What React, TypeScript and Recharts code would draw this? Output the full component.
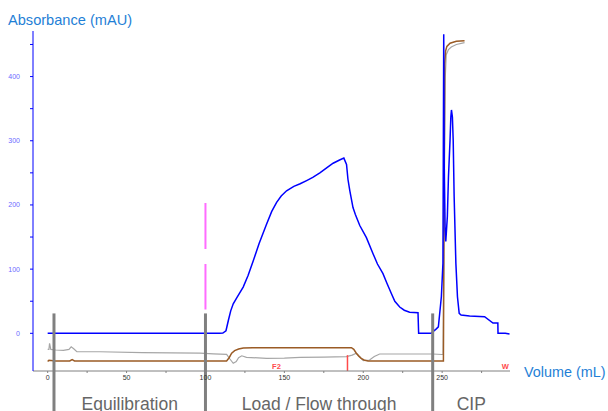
import React from 'react';
import {
  LineChart,
  Line,
  XAxis,
  YAxis,
  ReferenceLine,
  ReferenceArea,
  ReferenceDot,
} from 'recharts';

// UV 280 nm trace (mAU) vs volume (mL)
const uvTrace = [
  [0, 0], [10, 0], [30, 0], [60, 0], [90, 0], [109, 0], [111, 0.5], [113, 4], [114.5, 20],
  [116, 35], [117.6, 46], [120, 56], [123.9, 72], [127, 90], [130.3, 113], [134, 140],
  [138.7, 170], [142, 190], [145.1, 204], [148, 214], [151.4, 222], [156, 229], [160, 233],
  [164.1, 238], [168, 243], [172.5, 250], [177, 258], [180.9, 265], [185, 270], [187.7, 273],
  [189.4, 263], [190.3, 240], [191.5, 222], [193.5, 196], [195, 185], [197.8, 168],
  [202, 149], [206.2, 124], [209, 108], [212.5, 93], [215, 78], [217.8, 62], [220, 50],
  [223.1, 41], [226, 36], [229.4, 33], [234.7, 32], [235.1, 0], [243, 0], [246.3, 7],
  [247.6, 10], [249.5, 57], [250.5, 109], [251, 466], [251.3, 265], [251.9, 161],
  [252.3, 143], [253.3, 182], [254, 244], [255, 301], [255.5, 337], [255.9, 348],
  [256.5, 337], [257, 301], [257.6, 213], [258.7, 109], [259.7, 57], [260.8, 31],
  [262, 28.5], [267.4, 27], [276.9, 26], [282.2, 16], [285.3, 16], [285.4, 0], [290, 0],
  [292.7, -1],
];

// conductivity trace, drawn on the mAU scale
const condTrace = [
  [0, -44], [0.8, -42], [5, -43], [14, -43], [15.5, -41], [17, -43], [30, -43], [60, -43],
  [90, -43], [113.4, -43], [115, -38], [116.6, -31], [118.5, -27], [121, -24.5], [124, -22.8],
  [130, -22.4], [160, -22.4], [192.5, -22.4], [194, -25], [195.6, -31], [197.2, -35.5],
  [198.7, -39], [200.5, -41.5], [203, -43], [230, -43], [250, -43], [250.8, -43],
  [251.2, 200], [251.6, 420], [252.2, 440], [253, 447], [255, 452], [259, 455], [264.2, 456],
];

// pressure / second signal trace, also on the mAU scale
const pressTrace = [
  [0, -25], [0.8, -25], [1.2, -15.6], [2, -25], [5, -26], [10, -26.5], [13.5, -25],
  [14.9, -21], [16.5, -24], [18.5, -28.7], [33, -28.7], [60, -30], [96.5, -31],
  [105, -32], [113.4, -32.7], [115.5, -40], [117.6, -46.7], [119.5, -44], [121, -38],
  [123, -35], [126, -37.4], [138.7, -39], [150, -38.5], [160, -37.4], [175, -37],
  [189.4, -36.4], [193, -34], [195.6, -31], [197.5, -36], [200, -42.7], [204, -41.6],
  [207, -36], [210.4, -32.2], [223, -32.2], [244, -32.2], [250, -33], [250.6, -33],
  [251.3, 200], [252, 400], [252.6, 434], [254, 442], [255.8, 446], [259, 450], [264.2, 453],
];

const phaseStarts = [4, 100, 244];
const phases = [
  { name: 'Equilibration', start: 4, end: 100 },
  { name: 'Load / Flow through', start: 100, end: 244 },
  { name: 'CIP', start: 244, end: 293 },
];
const injectionAt = 100;
const fractionMarks = [190];
const fractionLabels = [
  { name: 'F2', at: 145 },
  { name: 'W', at: 290 },
];

const xTicks = [0, 25, 50, 75, 100, 125, 150, 175, 200, 225, 250, 275];
const yTicks = [0, 50, 100, 150, 200, 250, 300, 350, 400, 450];

const toPoints = (arr: number[][]) => arr.map(([v, y]) => ({ v, y }));

const FONT = '"Liberation Sans", Arial, sans-serif';

function PhaseLabel(props: any) {
  const { viewBox, value } = props;
  if (!viewBox) return null;
  return (
    <text
      x={viewBox.x + viewBox.width / 2}
      y={409.5}
      textAnchor="middle"
      fontSize={17.5}
      fill="#666666"
      fontFamily={FONT}
    >
      {value}
    </text>
  );
}

export default function App() {
  return (
    <div style={{ position: 'absolute', left: 0, top: 0, width: 608, height: 411, background: '#fff' }}>
      <LineChart
        width={608}
        height={411}
        margin={{ top: 31, right: 98, bottom: 20, left: 0 }}
        style={{ fontFamily: FONT }}
      >
        <XAxis
          type="number"
          dataKey="v"
          domain={[-9.3, 293]}
          allowDataOverflow
          ticks={xTicks}
          tickFormatter={(t: number) => (t % 50 === 0 ? String(t) : '')}
          height={20}
          stroke="#808080"
          tickSize={2}
          tickMargin={2.5}
          tick={{ fontSize: 7, fill: '#333333' }}
        />
        <YAxis
          type="number"
          domain={[-58.7, 471]}
          allowDataOverflow
          ticks={yTicks}
          tickFormatter={(t: number) => (t % 100 === 0 ? String(t) : '')}
          width={33}
          stroke="#0000ff"
          tickSize={3}
          tickMargin={10}
          tick={{ fontSize: 7, fill: '#6a6aff' }}
        />
        {phases.map((p) => (
          <ReferenceArea
            key={p.name}
            x1={p.start}
            x2={p.end}
            fill="none"
            fillOpacity={0}
            stroke="none"
            ifOverflow="visible"
            label={<PhaseLabel value={p.name} />}
          />
        ))}
        <Line
          data={toPoints(pressTrace)}
          dataKey="y"
          type="linear"
          stroke="#a6a6a6"
          strokeWidth={1.2}
          dot={false}
          isAnimationActive={false}
        />
        <Line
          data={toPoints(condTrace)}
          dataKey="y"
          type="linear"
          stroke="#9a5b25"
          strokeWidth={1.5}
          dot={false}
          isAnimationActive={false}
        />
        <Line
          data={toPoints(uvTrace)}
          dataKey="y"
          type="linear"
          stroke="#0000ff"
          strokeWidth={1.5}
          dot={false}
          isAnimationActive={false}
        />
        <ReferenceLine
          segment={[{ x: injectionAt, y: 203 }, { x: injectionAt, y: 37 }]}
          stroke="#ff6cff"
          strokeWidth={2}
          strokeDasharray="46 15"
          ifOverflow="visible"
        />
        {fractionMarks.map((f) => (
          <ReferenceLine
            key={f}
            segment={[{ x: f, y: -34 }, { x: f, y: -58.7 }]}
            stroke="#ff4a4a"
            strokeWidth={1.5}
            ifOverflow="visible"
          />
        ))}
        {fractionLabels.map((f) => (
          <ReferenceDot
            key={f.name}
            x={f.at}
            y={-51}
            r={0}
            fill="none"
            stroke="none"
            ifOverflow="visible"
            label={{ value: f.name, fill: '#ff4a4a', fontSize: 7.5, fontWeight: 'bold', position: 'center' }}
          />
        ))}
        {phaseStarts.map((p) => (
          <ReferenceLine
            key={p}
            segment={[{ x: p, y: 31 }, { x: p, y: -122 }]}
            stroke="#808080"
            strokeWidth={3}
            ifOverflow="visible"
          />
        ))}
        <text x={8} y={25.3} fontSize={14.6} fill="#1f7fd6" fontFamily={FONT}>
          Absorbance (mAU)
        </text>
        <text x={524} y={376.7} fontSize={14.4} fill="#1f7fd6" fontFamily={FONT}>
          Volume (mL)
        </text>
      </LineChart>
    </div>
  );
}
